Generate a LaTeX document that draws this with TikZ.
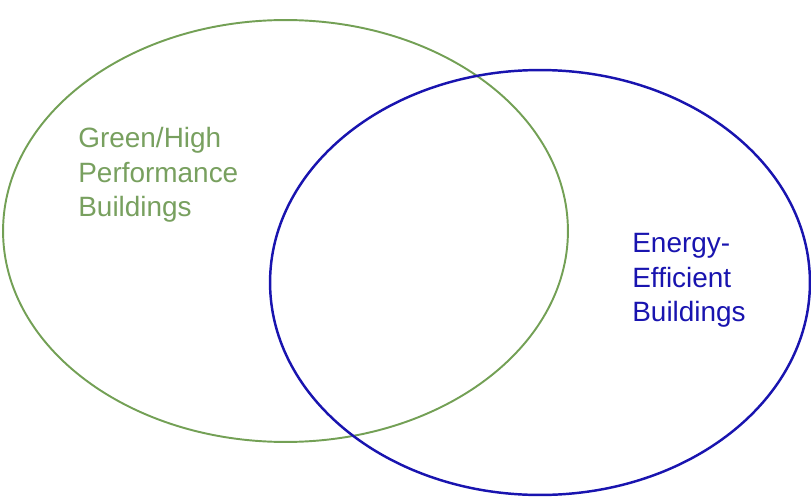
\documentclass[tikz,border=0pt]{standalone}
\usepackage{fontspec}
\setmainfont{Liberation Sans}
\usetikzlibrary{shapes.geometric}
\definecolor{setgreen}{RGB}{115,160,85}
\definecolor{labelgreen}{RGB}{120,160,95}
\definecolor{setblue}{RGB}{25,20,175}
\tikzstyle{greenset} = [ellipse, draw=setgreen, line width=1.1pt, minimum width=11.3cm, minimum height=8.44cm]
\tikzstyle{blueset} = [ellipse, draw=setblue, line width=1.4pt, minimum width=10.8cm, minimum height=8.5cm]
\tikzstyle{setlabel} = [anchor=north west, inner sep=0pt, align=left, font=\fontsize{15.9}{19.6}\selectfont]

\begin{document}
\begin{tikzpicture}[x=0.02cm, y=-0.02cm]
    \useasboundingbox (0,0) rectangle (811,497);
    \node (green) [greenset] at (285.5,231) {};
    \node (blue) [blueset] at (540,282.5) {};
    \node (greenlabel) [setlabel, text=labelgreen] at (78,127) {Green/High\\Performance\\Buildings};
    \node (bluelabel) [setlabel, text=setblue] at (632,233) {Energy-\\Efficient\\Buildings};
\end{tikzpicture}
\end{document}
